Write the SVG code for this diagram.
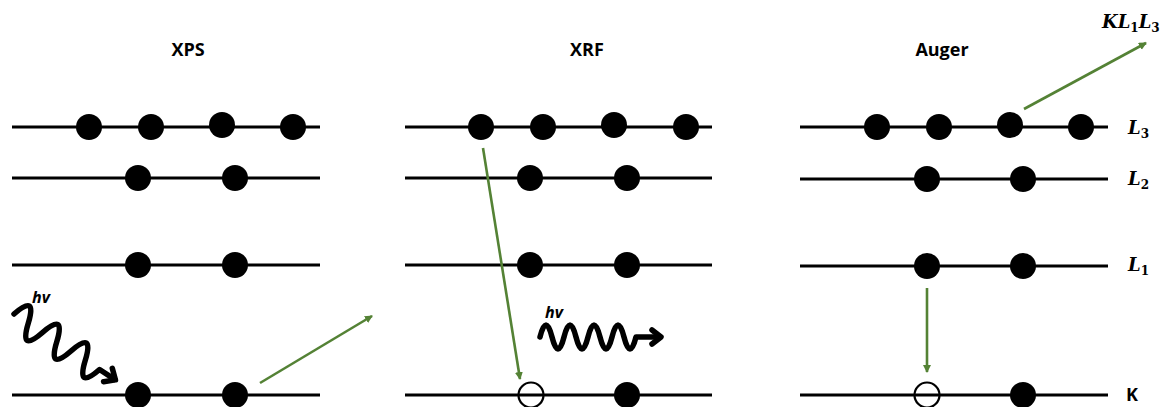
<svg xmlns="http://www.w3.org/2000/svg" width="1167" height="407" viewBox="0 0 1167 407">
<defs>
<style>
.lvl{stroke:#000;stroke-width:3;fill:none}
.e{fill:#000}
.h{fill:none;stroke:#000;stroke-width:2.2}
.g{stroke:#548235;stroke-width:2.6;fill:none}
.w{stroke:#000;stroke-width:5.5;fill:none;stroke-linecap:round;stroke-linejoin:round}
.t{font-family:"Open Sans","Liberation Sans",sans-serif;font-weight:bold;font-size:18px;fill:#000}
.hv{font-family:"Open Sans","Liberation Sans",sans-serif;font-weight:bold;font-style:italic;font-size:16px;fill:#000}
.m{font-family:"DejaVu Serif","Liberation Serif",serif;font-weight:bold;font-style:italic;font-size:18px;fill:#000}
.s{font-size:12px;font-style:normal}
</style>
<marker id="ga" markerWidth="10" markerHeight="10" refX="7" refY="4" orient="auto" markerUnits="userSpaceOnUse"><path d="M0,0 L8,4 L0,8 Z" fill="#548235"/></marker>
</defs>
<g id="xps">
<text class="t" x="188" y="56" text-anchor="middle">XPS</text>
<line class="lvl" x1="12" y1="127" x2="320" y2="127"/>
<line class="lvl" x1="12" y1="178" x2="320" y2="178"/>
<line class="lvl" x1="12" y1="265" x2="320" y2="265"/>
<line class="lvl" x1="12" y1="395" x2="320" y2="395"/>
<circle class="e" cx="89" cy="127" r="13"/><circle class="e" cx="151" cy="127" r="13"/><circle class="e" cx="222" cy="125" r="13"/><circle class="e" cx="293" cy="127" r="13"/>
<circle class="e" cx="138" cy="178" r="13"/><circle class="e" cx="235" cy="178" r="13"/>
<circle class="e" cx="138" cy="265" r="13"/><circle class="e" cx="235" cy="265" r="13"/>
<circle class="e" cx="138" cy="395" r="13"/><circle class="e" cx="235" cy="395" r="13"/>
<text class="hv" x="32" y="303">hv</text>
<g transform="translate(14,314) rotate(33)">
<path class="w" d="M0,0 q8.5,-30 17,0 t17,0 t17,0 t17,0 t17,0 t17,0 l18,0"/>
<path class="w" d="M112,-8 L121,0 L112,8"/>
</g>
</g>
<g id="xrf">
<text class="t" x="587" y="56" text-anchor="middle">XRF</text>
<line class="lvl" x1="405" y1="127" x2="712" y2="127"/>
<line class="lvl" x1="405" y1="178" x2="712" y2="178"/>
<line class="lvl" x1="405" y1="265" x2="712" y2="265"/>
<line class="lvl" x1="405" y1="395" x2="712" y2="395"/>
<circle class="e" cx="481" cy="127" r="13"/><circle class="e" cx="543" cy="127" r="13"/><circle class="e" cx="614" cy="125" r="13"/><circle class="e" cx="686" cy="127" r="13"/>
<circle class="e" cx="530" cy="178" r="13"/><circle class="e" cx="627" cy="178" r="13"/>
<circle class="e" cx="530" cy="265" r="13"/><circle class="e" cx="627" cy="265" r="13"/>
<circle class="h" cx="531" cy="395" r="12.5"/><circle class="e" cx="627" cy="395" r="13"/>
<text class="hv" x="545" y="318">hv</text>
<path class="w" d="M540,337 q6,-24 12,0 t12,0 t12,0 t12,0 t12,0 t12,0 t12,0 t12,0 l20,0"/>
<path class="w" d="M652,330 L661,337 L652,344"/>
</g>
<g id="auger">
<text class="t" x="942" y="56" text-anchor="middle">Auger</text>
<line class="lvl" x1="800" y1="127" x2="1108" y2="127"/>
<line class="lvl" x1="800" y1="179" x2="1108" y2="179"/>
<line class="lvl" x1="800" y1="266" x2="1108" y2="266"/>
<line class="lvl" x1="800" y1="395" x2="1108" y2="395"/>
<circle class="e" cx="877" cy="127" r="13"/><circle class="e" cx="939" cy="127" r="13"/><circle class="e" cx="1010" cy="125" r="13"/><circle class="e" cx="1081" cy="127" r="13"/>
<circle class="e" cx="927" cy="179" r="13"/><circle class="e" cx="1023" cy="179" r="13"/>
<circle class="e" cx="927" cy="266" r="13"/><circle class="e" cx="1023" cy="266" r="13"/>
<circle class="h" cx="927" cy="395" r="12.5"/><circle class="e" cx="1023" cy="395" r="13"/>
</g>
<g id="labels">
<text class="m" x="1128" y="134">L<tspan class="s" dy="4">3</tspan></text>
<text class="m" x="1128" y="185">L<tspan class="s" dy="4">2</tspan></text>
<text class="m" x="1128" y="271">L<tspan class="s" dy="4">1</tspan></text>
<text class="t" x="1126" y="401">K</text>
<text class="m" x="1102" y="28">KL<tspan class="s" dy="4">1</tspan><tspan dy="-4">L</tspan><tspan class="s" dy="4">3</tspan></text>
</g>
<g id="connectors">
<line class="g" x1="260" y1="383" x2="372" y2="316" marker-end="url(#ga)"/>
<line class="g" x1="483" y1="148" x2="520" y2="379" marker-end="url(#ga)"/>
<line class="g" x1="1024" y1="109" x2="1146" y2="43" marker-end="url(#ga)"/>
<line class="g" x1="927" y1="288" x2="927" y2="372" marker-end="url(#ga)"/>
</g>
</svg>
